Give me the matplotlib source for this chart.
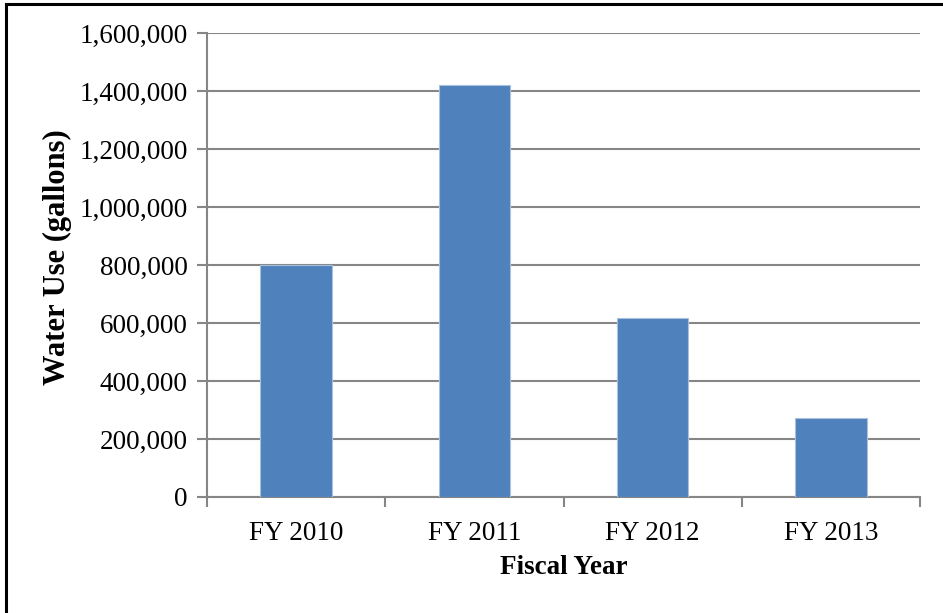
import matplotlib
matplotlib.use("Agg")
import matplotlib.pyplot as plt
from matplotlib.lines import Line2D
from matplotlib.ticker import FuncFormatter, FixedLocator
import numpy as np

categories = ["FY 2010", "FY 2011", "FY 2012", "FY 2013"]
water_use = [800000, 1422000, 617000, 271000]
y_ticks = [0, 200000, 400000, 600000, 800000, 1000000, 1200000, 1400000, 1600000]

plt.rcParams['font.family'] = ['Liberation Serif', 'DejaVu Serif']

fig = plt.figure(figsize=(9.43, 6.13), dpi=100)
ax = fig.add_axes([207/943, 1-497/613, (920-207)/943, (497-33)/613])

x = np.arange(len(categories))
ax.bar(x, water_use, width=0.4, color='#4F81BD', edgecolor='#A9C1DF', linewidth=0.8, zorder=3)

ax.set_xlim(-0.5, len(categories)-0.5)
ax.set_ylim(0, 1600000)
ax.set_yticks(y_ticks)
ax.yaxis.set_major_formatter(FuncFormatter(lambda v, p: f"{int(v):,}"))
ax.yaxis.grid(True, color='#868686', linewidth=1.5, zorder=0)
ax.set_axisbelow(True)

ax.set_xticks(x)
ax.set_xticklabels(categories)
ax.xaxis.set_minor_locator(FixedLocator(np.arange(-0.5, len(categories), 1.0)))
ax.tick_params(axis='x', which='major', length=0, labelsize=19.5, pad=17)
ax.tick_params(axis='x', which='minor', length=7, width=1.5, color='#868686', direction='out')
ax.tick_params(axis='y', length=7, width=1.5, color='#868686', labelsize=19.5, pad=7)

for s in ['top', 'right']:
    ax.spines[s].set_visible(False)
for s in ['left', 'bottom']:
    ax.spines[s].set_color('#868686')
    ax.spines[s].set_linewidth(1.5)

fig.text(57/943, 1-257/613, "Water Use (gallons)", rotation=90, ha='center', va='center',
         fontsize=22, fontweight='bold')
fig.text(564/943, 1-567/613, "Fiscal Year", ha='center', va='center',
         fontsize=19.5, fontweight='bold')

# outer frame (top and left edges)
fig.add_artist(Line2D([6/943, 6/943], [0, 1-4/613], transform=fig.transFigure, color='black', linewidth=2.2))
fig.add_artist(Line2D([6/943, 1], [1-4/613, 1-4/613], transform=fig.transFigure, color='black', linewidth=2.2))

fig.savefig("out.png", dpi=100)
